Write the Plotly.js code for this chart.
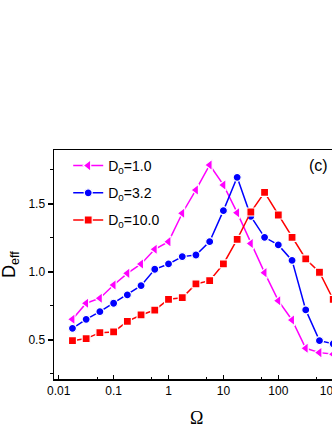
<!DOCTYPE html>
<html>
<head>
<meta charset="utf-8">
<script src="https://cdn.plot.ly/plotly-3.0.1.min.js"></script>
<style>
html,body{margin:0;padding:0;overflow:hidden;background:#fff;}
#chart{width:360px;height:430px;}
</style>
</head>
<body>
<div id="chart"></div>
<script>
// Omega values (log-spaced)
const omega = [0.0178, 0.0316, 0.0562, 0.1, 0.178, 0.316, 0.562, 1, 1.78, 3.16,
               5.62, 10, 17.8, 31.6, 56.2, 100, 178, 316, 562, 1000];
const seriesNames = ["D<sub>0</sub>=1.0", "D<sub>0</sub>=3.2", "D<sub>0</sub>=10.0"];
const deffD1 = [0.652, 0.770, 0.807, 0.904, 0.990, 1.059, 1.167, 1.223, 1.432, 1.603,
                1.787, 1.640, 1.436, 1.210, 0.995, 0.789, 0.647, 0.439, 0.407, 0.395];
const deffD32 = [0.586, 0.652, 0.708, 0.770, 0.831, 0.899, 1.020, 1.059, 1.113, 1.125,
                 1.223, 1.451, 1.696, 1.409, 1.255, 1.199, 1.085, 0.721, 0.495, 0.472];
const deffD10 = [0.495, 0.510, 0.554, 0.559, 0.637, 0.684, 0.720, 0.799, 0.811, 0.912,
                 0.936, 1.059, 1.240, 1.441, 1.586, 1.419, 1.255, 1.096, 0.998, 0.798];
const xTickVals = [0.01, 0.1, 1, 10, 100, 1000];
const xTickText = ["0.01", "0.1", "1", "10", "100", "1000"];
const xMinorVals = [0.05, 0.5, 5, 50, 500, 5000];

const colors = ["#ff00ff", "#0000ff", "#ff0000"];
const symbols = ["triangle-left", "circle", "square"];
const sizes = [10, 8, 8];
const ys = [deffD1, deffD32, deffD10];

const traces = ys.map((y, i) => ({
  x: omega, y: y, type: "scatter", mode: "lines+markers", name: seriesNames[i],
  line: {color: colors[i], width: 1.5},
  marker: {color: colors[i], symbol: symbols[i], size: sizes[i], line: {color: "#ffffff", width: 1.2}},
  legendgroup: "g" + i
}));

const font = "Arial, 'Liberation Sans', sans-serif";
const layout = {
  width: 360, height: 430,
  margin: {l: 54, r: 10, t: 150, b: 51},
  paper_bgcolor: "#fff", plot_bgcolor: "#fff",
  showlegend: true,
  legend: {x: 0.048, y: 1.0, xanchor: "left", yanchor: "top", bgcolor: "rgba(0,0,0,0)",
           font: {family: font, size: 14, color: "#000"}, tracegroupgap: 6, traceorder: "grouped"},
  xaxis: {type: "log", range: [-2.086, 3.306], showgrid: false, zeroline: false,
          showline: true, linecolor: "#000", linewidth: 1.5, mirror: true,
          ticks: "inside", ticklen: 4, tickwidth: 1.2, tickcolor: "#000",
          tickmode: "array", tickvals: xTickVals, ticktext: xTickText,
          tickfont: {family: font, size: 12, color: "#000"},
          minor: {tickmode: "array", tickvals: xMinorVals, ticks: "inside", ticklen: 2.5, tickwidth: 1, tickcolor: "#000"}},
  yaxis: {range: [0.213, 1.897], showgrid: false, zeroline: false,
          showline: true, linecolor: "#000", linewidth: 1.5, mirror: true,
          ticks: "outside", ticklen: 5, tickwidth: 1.2, tickcolor: "#000",
          tickmode: "linear", tick0: 0, dtick: 0.5, tickformat: ".1f",
          tickfont: {family: font, size: 12, color: "#000"},
          minor: {dtick: 0.25, tick0: 0, ticks: "outside", ticklen: 3, tickwidth: 1, tickcolor: "#000"}},
  annotations: [
    {text: "D<sub>eff</sub>", xref: "paper", yref: "paper", x: -0.149, y: 0.502,
     xanchor: "center", yanchor: "middle", textangle: -90, showarrow: false,
     font: {family: font, size: 18, color: "#000"}},
    {text: "Ω", xref: "paper", yref: "paper", x: 0.483, y: -0.172,
     xanchor: "center", yanchor: "middle", showarrow: false,
     font: {family: "'Liberation Serif', 'Times New Roman', serif", size: 18, color: "#000"}},
    {text: "(c)", xref: "paper", yref: "paper", x: 0.892, y: 0.934,
     xanchor: "center", yanchor: "middle", showarrow: false,
     font: {family: font, size: 16, color: "#000"}}
  ]
};
Plotly.newPlot("chart", traces, layout, {displayModeBar: false, staticPlot: true});
</script>
</body>
</html>
